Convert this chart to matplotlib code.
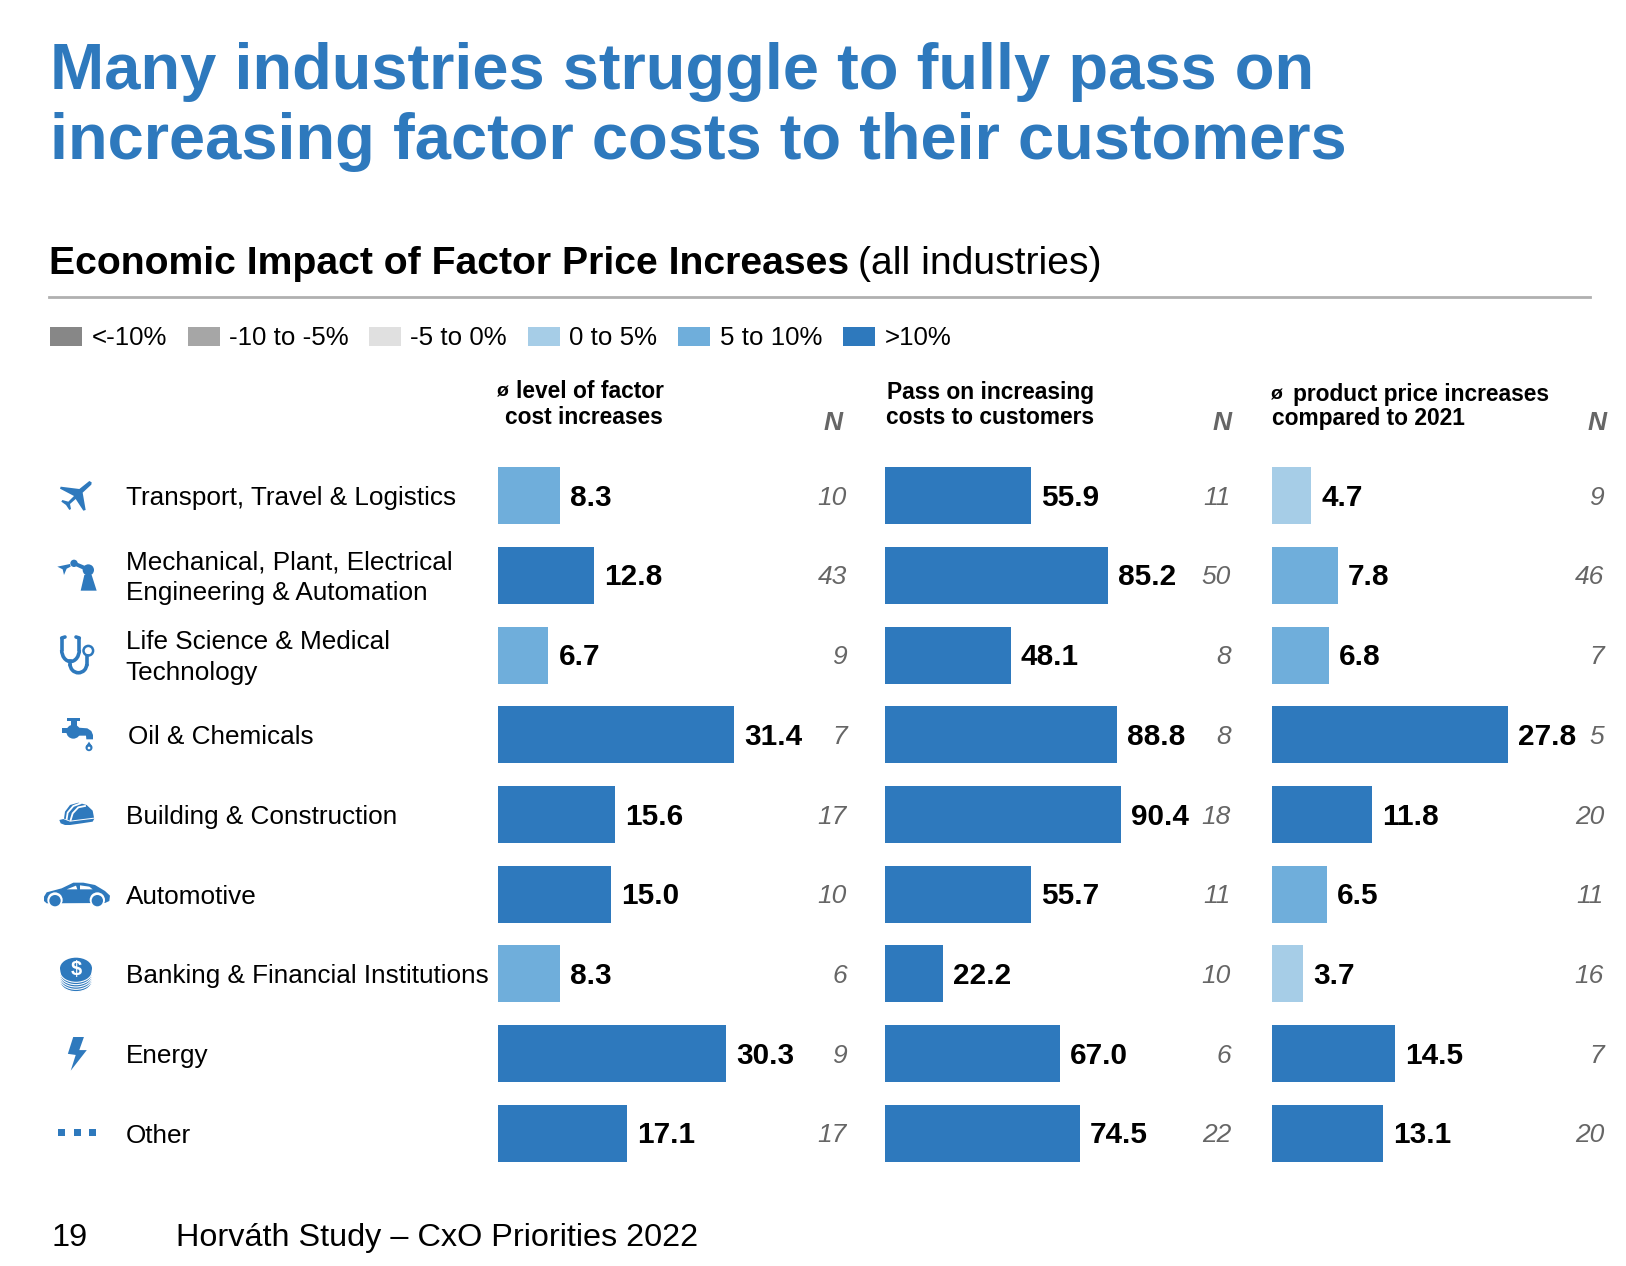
import numpy as np
import matplotlib
matplotlib.use("Agg")
import matplotlib.pyplot as plt
from matplotlib.patches import Circle, Ellipse, Polygon, Rectangle, Arc

plt.rcParams["font.family"] = ["Liberation Sans", "DejaVu Sans"]

# Data
categories = [
    "Transport, Travel & Logistics",
    "Mechanical, Plant, Electrical\nEngineering & Automation",
    "Life Science & Medical\nTechnology",
    "Oil & Chemicals",
    "Building & Construction",
    "Automotive",
    "Banking & Financial Institutions",
    "Energy",
    "Other",
]
factor_cost = [8.3, 12.8, 6.7, 31.4, 15.6, 15.0, 8.3, 30.3, 17.1]
factor_cost_n = [10, 43, 9, 7, 17, 10, 6, 9, 17]
pass_on = [55.9, 85.2, 48.1, 88.8, 90.4, 55.7, 22.2, 67.0, 74.5]
pass_on_n = [11, 50, 8, 8, 18, 11, 10, 6, 22]
price_increase = [4.7, 7.8, 6.8, 27.8, 11.8, 6.5, 3.7, 14.5, 13.1]
price_increase_n = [9, 46, 7, 5, 20, 11, 16, 7, 20]
legend_labels = ["<-10%", "-10 to -5%", "-5 to 0%", "0 to 5%", "5 to 10%", ">10%"]

# Colors
BLUE = "#2E79BD"
MID_BLUE = "#6FAEDB"
LIGHT_BLUE = "#A6CDE7"
legend_colors = ["#878787", "#A6A6A6", "#E0E0E0", LIGHT_BLUE, MID_BLUE, BLUE]
GREY_N = "#666666"

W, H = 1626, 1266
fig = plt.figure(figsize=(W / 100, H / 100), dpi=100)

# Overlay in pixel coordinates for the slide text and the icons
page = fig.add_axes([0, 0, 1, 1])
page.set_xlim(0, W)
page.set_ylim(H, 0)
page.axis("off")

# Titles
page.text(50, 89, "Many industries struggle to fully pass on", color=BLUE, fontsize=46.9, fontweight="bold")
page.text(50, 159.5, "increasing factor costs to their customers", color=BLUE, fontsize=46.9, fontweight="bold")
page.text(49, 274, "Economic Impact of Factor Price Increases", fontsize=28.15, fontweight="bold")
page.text(858, 274, "(all industries)", fontsize=28.2)
page.plot([49, 1590], [296.5, 296.5], color="#B0B0B0", lw=2)

# Legend
swatch_x = [50, 188, 369, 528, 678, 843]
text_x = [92, 229, 410, 569, 720, 885]
for sx, tx, lab, col in zip(swatch_x, text_x, legend_labels, legend_colors):
    page.add_patch(Rectangle((sx, 327), 32, 19, color=col, lw=0))
    page.text(tx, 338, lab, fontsize=18.6, va="center")

# Footer
page.text(51, 1246, "19", fontsize=23.4)
page.text(176, 1246, "Horváth Study – CxO Priorities 2022", fontsize=23.35)

# Row geometry
row_0 = 495.7
row_pitch = 79.7
bar_h = 57 / row_pitch


def bar_color(v):
    if v > 10:
        return BLUE
    if v > 5:
        return MID_BLUE
    return LIGHT_BLUE


def draw_panel(left, right, px_per_unit, values, ns):
    top = row_0 - row_pitch / 2
    bottom = row_0 + 8.5 * row_pitch
    ax = fig.add_axes([left / W, 1 - bottom / H, (right - left) / W, (bottom - top) / H])
    ax.patch.set_alpha(0)
    y = np.arange(len(values))
    ax.barh(y, values, height=bar_h, color=[bar_color(v) for v in values], linewidth=0)
    ax.set_xlim(0, (right - left) / px_per_unit)
    ax.set_ylim(8.5, -0.5)
    ax.axis("off")
    for i, v in enumerate(values):
        ax.annotate(f"{v:.1f}", (v, i), xytext=(7.2, -1.5), textcoords="offset points",
                    fontsize=21.4, fontweight="bold", va="center", ha="left")
        ax.annotate(str(ns[i]), (1, i), xycoords=ax.get_yaxis_transform(), xytext=(0, -1.5),
                    textcoords="offset points", fontsize=19, style="italic", color=GREY_N,
                    va="center", ha="right", annotation_clip=False)
    return ax


draw_panel(498, 847, 7.53, factor_cost, factor_cost_n)
draw_panel(885, 1231, 2.615, pass_on, pass_on_n)
draw_panel(1271.5, 1604, 8.5, price_increase, price_increase_n)

# Category labels
for i, cat in enumerate(categories):
    x = 127.5 if cat == "Oil & Chemicals" else 125.7
    page.text(x, row_0 + i * row_pitch + 2.5, cat, fontsize=18.85, va="center", linespacing=1.37)

# Column headers
header_size = 16.4
page.text(497, 392, "ø", fontsize=14, fontweight="bold", va="center")
page.text(516, 392, "level of factor", fontsize=header_size, fontweight="bold", va="center")
page.text(505, 418, "cost increases", fontsize=header_size, fontweight="bold", va="center")
page.text(887, 393, "Pass on increasing", fontsize=header_size, fontweight="bold", va="center")
page.text(886, 418, "costs to customers", fontsize=header_size, fontweight="bold", va="center")
page.text(1271, 395, "ø", fontsize=14, fontweight="bold", va="center")
page.text(1293, 395, "product price increases", fontsize=header_size, fontweight="bold", va="center")
page.text(1272, 419, "compared to 2021", fontsize=header_size, fontweight="bold", va="center")
for nx in [843, 1232, 1607]:
    page.text(nx, 423.5, "N", fontsize=19, fontweight="bold", style="italic", color=GREY_N, va="center", ha="right")


# Icons. Each one is given in a little grid of
# 3 units per pixel starting at (ox, oy)
def grid(ox, oy):
    return lambda x, y: (ox + x / 3, oy + y / 3)


def poly(points, conv, color=BLUE):
    page.add_patch(Polygon([conv(*p) for p in points], closed=True, color=color, lw=0))


def disc(center, r, conv, color=BLUE):
    page.add_patch(Circle(conv(*center), r / 3, color=color, lw=0))


# Plane
g = grid(50, 470)
poly([(125, 37), (118, 33), (88, 57), (32, 50), (30, 56), (72, 78), (55, 95), (37, 90), (34, 95), (48, 105),
      (58, 120), (63, 117), (60, 102), (77, 87), (100, 122), (107, 120), (98, 68), (124, 44)], g)

# Robot arm
g = grid(50, 550)
poly([(103, 75), (125, 75), (140, 122), (92, 122)], g)
disc((115, 60), 17, g)
disc((72, 40), 11, g)
poly([(72, 34), (115, 52), (115, 66), (72, 46)], g)
poly([(22, 50), (60, 42), (62, 50), (50, 56), (42, 75), (38, 58)], g)

# Stethoscope
page.add_patch(Arc((70.5, 650), 17.6, 23, theta1=0, theta2=180, color=BLUE, lw=2.6))
page.plot([61.7, 61.7], [639, 650], color=BLUE, lw=2.6, solid_capstyle="round")
page.plot([79.3, 79.3], [639, 650], color=BLUE, lw=2.6, solid_capstyle="round")
page.plot([61.7, 65], [638, 637], color=BLUE, lw=2.6, solid_capstyle="round")
page.plot([79.3, 76], [638, 637], color=BLUE, lw=2.6, solid_capstyle="round")
page.plot([70, 70], [661, 664], color=BLUE, lw=2.6)
page.add_patch(Arc((78.4, 664), 16.8, 17.5, theta1=0, theta2=180, color=BLUE, lw=2.6))
page.plot([86.8, 86.8], [664, 656], color=BLUE, lw=2.6)
page.add_patch(Circle((88.3, 650.7), 4.8, fill=False, ec=BLUE, lw=1.8))

# Tap
g = grid(50, 705)
poly([(52, 38), (90, 38), (90, 48), (80, 48), (80, 62), (63, 62), (63, 48), (52, 48)], g)
disc((70, 80), 21, g)
poly([(35, 68), (55, 68), (55, 85), (35, 85)], g)
poly([(85, 68), (112, 70), (124, 78), (129, 90), (129, 103), (109, 103), (108, 92), (85, 92)], g)
poly([(117, 110), (127, 125), (107, 125)], g)
disc((117, 128), 10.5, g)
disc((117, 129), 4, g, color="white")

# Helmet
g = grid(50, 780)
poly([(42, 116), (45, 95), (60, 75), (85, 68), (110, 75), (128, 92), (132, 113), (100, 117), (60, 122)], g)
poly([(28, 120), (40, 117), (60, 125), (100, 120), (133, 116), (128, 125), (95, 130), (60, 135), (45, 135),
      (32, 130)], g)
for stripe in ([(50, 117), (53, 98), (70, 78), (92, 70)], [(62, 120), (68, 100), (85, 82), (105, 78)]):
    pts = [g(*p) for p in stripe]
    page.plot([p[0] for p in pts], [p[1] for p in pts], color="white", lw=1.3)

# Car
g = grid(40, 865)
poly([(12, 95), (20, 82), (65, 70), (100, 53), (130, 53), (165, 60), (195, 78), (210, 92), (208, 108), (195, 114),
      (20, 115), (12, 108)], g)
for cx in [45, 172]:
    disc((cx, 105), 23, g, color="white")
    disc((cx, 107), 17, g)
poly([(80, 73), (108, 62), (112, 73)], g, color="white")
poly([(120, 61), (148, 65), (158, 73), (120, 73)], g, color="white")

# Coin stack
g = grid(50, 945)
for k in range(4, -1, -1):
    page.add_patch(Ellipse(g(78, 80 + k * 7), 32, 21.3, fc=BLUE, ec="white", lw=0.8))
page.add_patch(Ellipse(g(78, 70), 32, 21.3, color=BLUE, lw=0))
page.text(*g(78, 73), "$", color="white", fontsize=14.5, fontweight="bold", ha="center", va="center")

# Lightning bolt
g = lambda x, y: (x / 2.8, 680 + y / 2.675)
poly([(205, 955), (235, 955), (222, 990), (243, 990), (198, 1045), (212, 1003), (190, 1000)], g)

# Three dots for Other
for x0 in [163, 207, 250]:
    px, py = g(x0, 1200)
    page.add_patch(Rectangle((px, py), 7, 7.5, color=BLUE, lw=0))

fig.savefig("out.png", dpi=100)
